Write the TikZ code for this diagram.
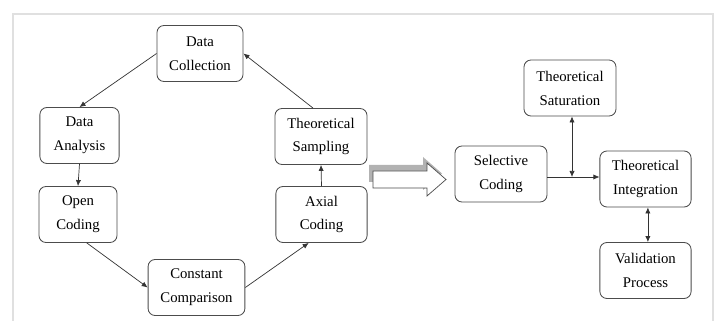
\documentclass[tikz,border=0pt]{standalone}
\usepackage{fontspec}
\setmainfont{Liberation Serif}
\usetikzlibrary{arrows.meta}

\begin{document}
\begin{tikzpicture}[x=0.025cm,y=-0.025cm,>=Latex,
  stage/.style={draw=black!70,line width=0.6pt,rounded corners=5pt,fill=white,minimum width=2.3cm,minimum height=1.4cm,align=center,font=\fontsize{10.5}{17}\selectfont,inner sep=2pt},
  link/.style={-{Latex[length=1.5mm,width=1.3mm]},black!80,line width=0.5pt},
  both/.style={{Latex[length=1.5mm,width=1.3mm]}-{Latex[length=1.5mm,width=1.3mm]},black!80,line width=0.5pt}]
\useasboundingbox (0,0) rectangle (717,321);
% page frame
\draw[black!12,line width=1.2pt] (13,321)--(13,14)--(713,14)--(713,321);

% coding cycle
\node[stage,minimum width=2.15cm] (dc) at (200,53.5) {Data\\Collection};
\node[stage,minimum width=1.98cm] (da) at (79.5,135.5) {Data\\Analysis};
\node[stage,minimum width=1.95cm] (oc) at (78,214.5) {Open\\Coding};
\node[stage,minimum width=2.42cm] (cc) at (196.5,287.5) {Constant\\Comparison};
\node[stage,minimum width=2.28cm] (ac) at (321.5,214.5) {Axial\\Coding};
\node[stage] (ts) at (321,136.5) {Theoretical\\Sampling};
\draw[link] (dc.west)--(da.north);
\draw[link] (da.south)--(oc.north);
\draw[link] ([xshift=0.22cm]oc.south)--(cc.west);
\draw[link] (cc.east)--([xshift=-0.32cm]ac.south);
\draw[link] (ac.north)--(ts.north|-ts.south);
\draw[link] ([xshift=-0.2cm]ts.north)--(dc.east);

% hollow block arrow with its shadow
\fill[black!30,shift={(-4,-6)}] (373,171)--(427,171)--(427,163)--(446,179.5)--(427,196)--(427,188)--(373,188)--cycle;
\draw[black!70,fill=white,line width=0.5pt] (373,171)--(427,171)--(427,163)--(446,179.5)--(427,196)--(427,188)--(373,188)--cycle;

% selective coding stage
\node[stage] (sc) at (501,174) {Selective\\Coding};
\node[stage] (tsat) at (570,88) {Theoretical\\Saturation};
\node[stage,minimum width=2.28cm] (ti) at (645.5,179) {Theoretical\\Integration};
\node[stage,minimum width=2.28cm] (vp) at (645.5,270.5) {Validation\\Process};
\coordinate (jn) at (572,177);
\draw[link] (sc.east|-jn)--(ti.west|-jn);
\draw[both] (tsat.south-|jn)--(jn);
\draw[both] ([xshift=0.06cm]ti.south)--([xshift=0.06cm]vp.north);
\end{tikzpicture}
\end{document}
